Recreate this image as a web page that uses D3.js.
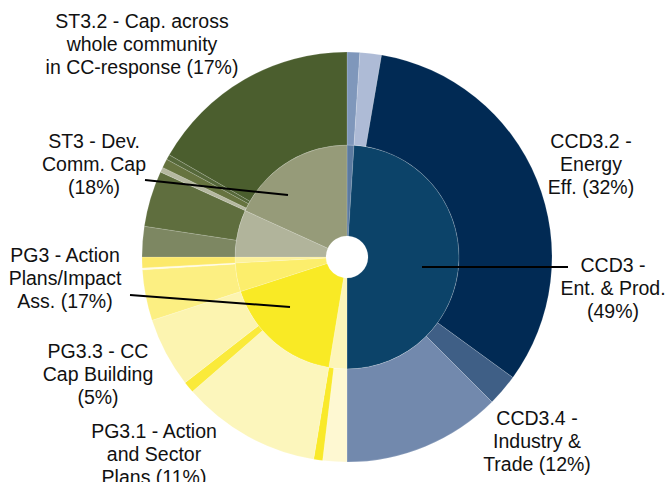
<!DOCTYPE html>
<html>
<head>
<meta charset="utf-8">
<script src="https://cdn.jsdelivr.net/npm/d3@7"></script>
<style>
  body { margin: 0; background: #fff; }
  svg { display: block; }
  text { font-family: "Liberation Sans", Arial, sans-serif; font-size: 19.5px; fill: #111; }
</style>
</head>
<body>
<svg width="666" height="482"></svg>
<script>
// inner ring groups (in data order, clockwise from 12 o'clock)
var groupNames  = ["CCD3.0", "CCD3", "PG3.0", "PG3", "PG3.4", "PG3.5", "ST3.0", "ST3"];
var groupColors = ["#5b7aa0", "#0c4369", "#fdf5b8", "#f9ea25", "#fcee6c", "#fdf29c", "#b1b49b", "#969b79"];

// outer ring segments, share of total in %
var segNames  = ["CCD3.0a", "CCD3.1", "CCD3.2", "CCD3.3", "CCD3.4",
                 "PG3.0a", "PG3.0b",
                 "PG3.1", "PG3.2", "PG3.3",
                 "PG3.4a", "PG3.4b",
                 "PG3.5a",
                 "ST3.0a", "ST3.0b",
                 "ST3.1", "ST3.3", "ST3.4", "ST3.2"];
var segGroups = ["CCD3.0", "CCD3", "CCD3", "CCD3", "CCD3",
                 "PG3.0", "PG3.0",
                 "PG3", "PG3", "PG3",
                 "PG3.4", "PG3.4",
                 "PG3.5",
                 "ST3.0", "ST3.0",
                 "ST3", "ST3", "ST3", "ST3"];
var segValues = [1.0, 1.7, 32.3, 2.5, 12.5,
                 1.9, 0.7,
                 11.0, 0.9, 5.5,
                 4.0, 0.15,
                 0.85,
                 2.4, 4.4,
                 0.4, 0.7, 0.4, 16.7];
var segColors = ["#7f97bb", "#aebbd6", "#012a54", "#3f5f86", "#7289ad",
                 "#fef8d2", "#f9e92a",
                 "#fcf6bc", "#faea3a", "#fcf4b0",
                 "#fcef82", "#fffbe3",
                 "#fce96a",
                 "#7d8762", "#5f6e3e",
                 "#b5b8a0", "#66733f", "#56683a", "#4b5e2e"];

// labels
var labelLines = [
    ["ST3.2 - Cap. across", "whole community", "in CC-response (17%)"],
    ["ST3 - Dev.", "Comm. Cap", "(18%)"],
    ["PG3 - Action", "Plans/Impact", "Ass. (17%)"],
    ["PG3.3 - CC", "Cap Building", "(5%)"],
    ["PG3.1 - Action", "and Sector", "Plans (11%)"],
    ["CCD3.2 -", "Energy", "Eff. (32%)"],
    ["CCD3 -", "Ent. & Prod.", "(49%)"],
    ["CCD3.4 -", "Industry &", "Trade (12%)"]
];
var labelX = [142, 94, 65, 98, 154, 591, 613, 537];
var labelY = [28, 148, 262, 358, 438, 148, 272, 425];
var leaders = [[145, 180, 288, 195], [130, 295, 290, 307], [422, 267, 568, 267]];

var svg = d3.select("svg");
var cx = 347, cy = 257;

var root = d3.hierarchy({
    children: groupNames.map(function (g, i) {
        return {
            name: g,
            color: groupColors[i],
            children: segNames.map(function (n, j) {
                return { name: n, group: segGroups[j], value: segValues[j], color: segColors[j] };
            }).filter(function (s) { return s.group == g; })
        };
    })
}).sum(function (d) { return d.children ? 0 : d.value; });

d3.partition().size([2 * Math.PI, 3])(root);

var r = d3.scaleLinear().domain([1, 2, 3]).range([21, 112, 205]);

var arc = d3.arc()
    .startAngle(function (d) { return d.x0; })
    .endAngle(function (d) { return d.x1; })
    .innerRadius(function (d) { return r(d.y0); })
    .outerRadius(function (d) { return r(d.y1); });

var g = svg.append("g").attr("transform", "translate(" + cx + "," + cy + ")");

g.selectAll("path")
    .data(root.descendants().filter(function (d) { return d.depth > 0; }))
    .enter().append("path")
    .attr("d", arc)
    .attr("fill", function (d) { return d.data.color; })
    .attr("stroke", "#fff")
    .attr("stroke-opacity", 0.25)
    .attr("stroke-width", 0.6);

// leader lines
leaders.forEach(function (l) {
    svg.append("line")
        .attr("x1", l[0]).attr("y1", l[1])
        .attr("x2", l[2]).attr("y2", l[3])
        .attr("stroke", "#000")
        .attr("stroke-width", 2);
});

labelLines.forEach(function (lines, i) {
    var t = svg.append("text")
        .attr("text-anchor", "middle")
        .attr("x", labelX[i])
        .attr("y", labelY[i]);
    lines.forEach(function (s, k) {
        t.append("tspan").attr("x", labelX[i]).attr("dy", k == 0 ? 0 : 23).text(s);
    });
});
</script>
</body>
</html>
